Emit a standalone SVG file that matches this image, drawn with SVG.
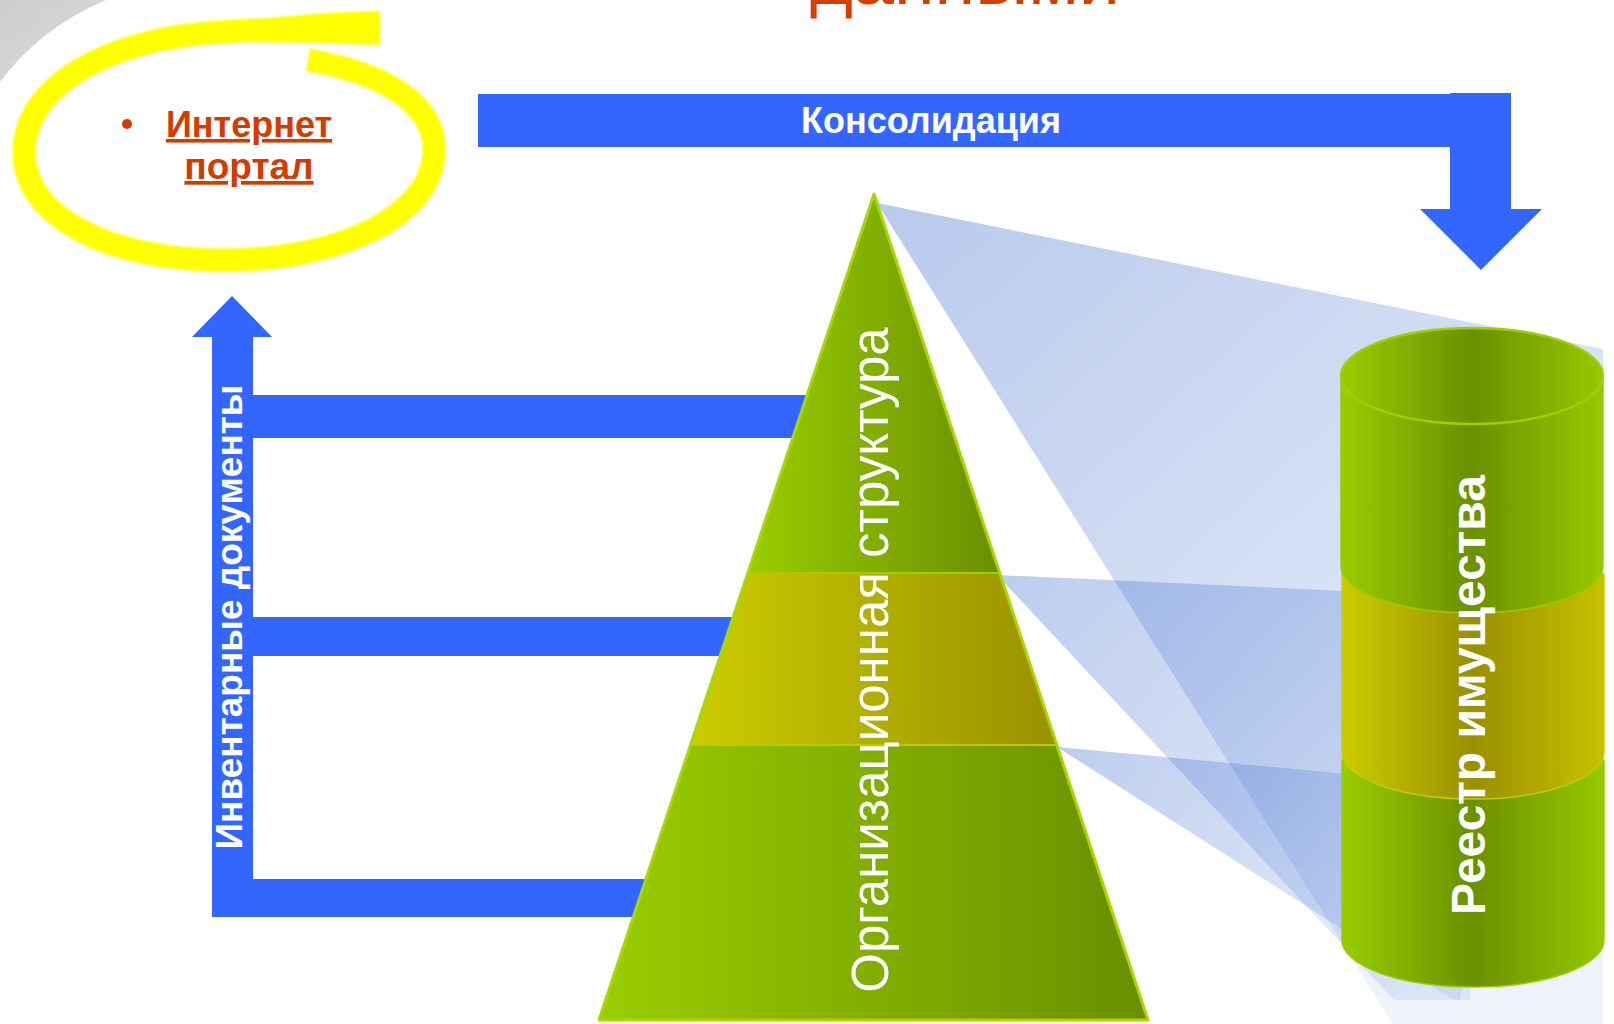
<svg xmlns="http://www.w3.org/2000/svg" width="1614" height="1024" viewBox="0 0 1614 1024">
<defs>
<style>
.blue{fill:#3366ff}
.wt{fill:#ffffff;font-family:"Liberation Sans",Arial,sans-serif}
.bold{font-weight:bold}
.red{fill:#d23c00;font-family:"Liberation Sans",Arial,sans-serif;font-weight:bold}
</style>
<linearGradient id="gray" x1="0" y1="0" x2="1" y2="1">
<stop offset="0" stop-color="#cdcdcd"/><stop offset="0.75" stop-color="#d8d8d8"/><stop offset="1" stop-color="#f0f0f0"/>
</linearGradient>
<linearGradient id="pg" x1="0" y1="0" x2="1" y2="0">
<stop offset="0" stop-color="#9acd00"/><stop offset="1" stop-color="#6a8e00"/>
</linearGradient>
<linearGradient id="py" x1="0" y1="0" x2="1" y2="0">
<stop offset="0" stop-color="#cccc00"/><stop offset="1" stop-color="#999100"/>
</linearGradient>
<linearGradient id="cg" x1="0" y1="0" x2="1" y2="0">
<stop offset="0" stop-color="#99cc00"/><stop offset="0.5" stop-color="#6b9000"/><stop offset="1" stop-color="#96c800"/>
</linearGradient>
<linearGradient id="cy" x1="0" y1="0" x2="1" y2="0">
<stop offset="0" stop-color="#cccc00"/><stop offset="0.5" stop-color="#999000"/><stop offset="1" stop-color="#c8c000"/>
</linearGradient>
<linearGradient id="b1" gradientUnits="userSpaceOnUse" x1="877" y1="203" x2="1500" y2="900">
<stop offset="0" stop-color="#3366cc" stop-opacity="0.35"/><stop offset="0.6" stop-color="#3366cc" stop-opacity="0.2"/><stop offset="1" stop-color="#3366cc" stop-opacity="0.08"/>
</linearGradient>
<linearGradient id="b2" gradientUnits="userSpaceOnUse" x1="997" y1="575" x2="1450" y2="980">
<stop offset="0" stop-color="#3366cc" stop-opacity="0.33"/><stop offset="1" stop-color="#3366cc" stop-opacity="0.1"/>
</linearGradient>
<linearGradient id="b3" gradientUnits="userSpaceOnUse" x1="1057" y1="747" x2="1450" y2="990">
<stop offset="0" stop-color="#3366cc" stop-opacity="0.33"/><stop offset="1" stop-color="#3366cc" stop-opacity="0.1"/>
</linearGradient>
<filter id="soft" x="-5%" y="-5%" width="110%" height="110%"><feGaussianBlur stdDeviation="1.2"/></filter>
</defs>
<rect width="1614" height="1024" fill="#ffffff"/>
<path d="M0,0 L106,0 Q40,28 0,82 Z" fill="url(#gray)"/>
<text x="810" y="4" font-family="Liberation Sans,Arial,sans-serif" font-size="72" fill="#d43f00" textLength="310" lengthAdjust="spacingAndGlyphs">данными</text>

<g id="beams">
<polygon points="877,203 1603,349 1603,1024 1393,1024" fill="url(#b1)"/>
<polygon points="997,575 1500,598 1470,1000 1394,1000" fill="url(#b2)"/>
<polygon points="1057,747 1500,788 1460,1000 1450,998" fill="url(#b3)"/>
</g>

<g id="connectors">
<g id="inventory-arrow">
<rect class="blue" x="253" y="395" width="600" height="43"/>
<rect class="blue" x="253" y="617" width="500" height="39"/>
<rect class="blue" x="253" y="879" width="420" height="38"/>
<rect class="blue" x="212" y="336" width="41" height="581"/>
<polygon class="blue" points="232,296 272,337 192,337"/>
<text class="wt bold" font-size="37" transform="translate(242,617) rotate(-90)" text-anchor="middle">Инвентарные документы</text>
</g>
<g id="consolidation-arrow">
<rect class="blue" x="478" y="94" width="1033" height="53"/>
<rect class="blue" x="1450" y="93" width="61" height="117"/>
<polygon class="blue" points="1420,209 1542,209 1481,270"/>
<text class="wt bold" font-size="36" x="931" y="133" text-anchor="middle">Консолидация</text>
</g>
</g>

<g id="portal">
<g filter="url(#soft)" fill="#ffff00">
<path d="M308,60 C390,74 436,107 434,152 C432,216 340,260 225,260 C110,260 24,218 24,152 C24,85 110,38 220,32 C290,28 340,26 380,27" fill="none" stroke="#ffff00" stroke-width="23"/>
<path d="M240,22 Q310,12 380,11 L380,45 Q310,42 240,42 Z"/>
</g>
<circle cx="127" cy="124" r="5" fill="#d23c00"/>
<text class="red" font-size="36" x="249" y="137" text-anchor="middle" text-decoration="underline">Интернет</text>
<text class="red" font-size="37" x="249" y="179" text-anchor="middle" text-decoration="underline">портал</text>
</g>

<g id="pyramid">
<polygon points="874,194 1000,573 748,573" fill="url(#pg)"/>
<polygon points="748,573 1000,573 1057,745 691,745" fill="url(#py)"/>
<polygon points="691,745 1057,745 1148,1020 599,1020" fill="url(#pg)"/>
<line x1="748" y1="573" x2="1000" y2="573" stroke="#a6cc00" stroke-width="2"/>
<line x1="691" y1="745" x2="1057" y2="745" stroke="#b8cc00" stroke-width="2"/>
<polygon points="874,194 1148,1020 599,1020" fill="none" stroke="#a8d800" stroke-width="3" stroke-linejoin="round"/>
<text class="wt" font-size="51" transform="translate(888,660) rotate(-90)" text-anchor="middle">Организационная структура</text>
</g>

<g id="registry">
<path d="M1342,760 L1604,760 L1604,940 A131,47 0 0 1 1342,940 Z" fill="url(#cg)" stroke="#99cc00" stroke-width="1.5"/>
<path d="M1342,574 L1604,574 L1604,752 A131,47 0 0 1 1342,752 Z" fill="url(#cy)" stroke="#c8cc00" stroke-width="1.5"/>
<path d="M1341,376 L1603,376 L1603,566 A131,47 0 0 1 1341,566 Z" fill="url(#cg)" stroke="#99cc00" stroke-width="1.5"/>
<ellipse cx="1472" cy="376" rx="131" ry="48" fill="url(#cg)" stroke="#a0d000" stroke-width="2.5"/>
<text class="wt bold" font-size="48" transform="translate(1485,695) rotate(-90)" text-anchor="middle">Реестр имущества</text>
</g>
</svg>
